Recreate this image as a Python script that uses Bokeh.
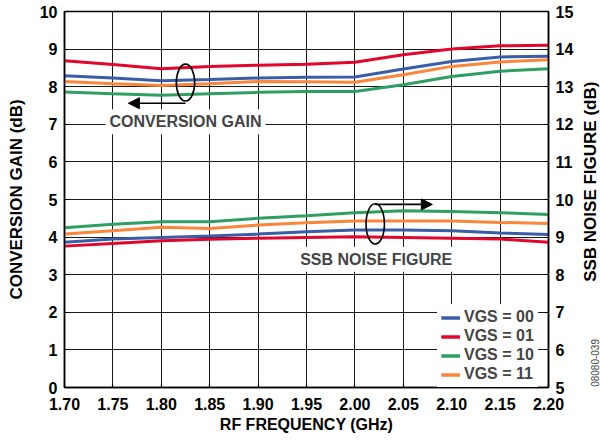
from bokeh.plotting import figure
from bokeh.layouts import row
from bokeh.models import (Range1d, LinearAxis, FixedTicker, Label, Arrow, NormalHead,
                          Legend, LegendItem, NumeralTickFormatter)
from bokeh.embed import file_html
from bokeh.resources import INLINE
import math

freq = [1.70, 1.75, 1.80, 1.85, 1.90, 1.95, 2.00, 2.05, 2.10, 2.15, 2.20]

# Conversion gain (dB), left axis
cg_00 = [8.29, 8.23, 8.16, 8.19, 8.23, 8.25, 8.26, 8.47, 8.67, 8.79, 8.81]
cg_01 = [8.69, 8.59, 8.48, 8.54, 8.57, 8.60, 8.65, 8.85, 9.00, 9.09, 9.10]
cg_10 = [7.86, 7.81, 7.77, 7.81, 7.85, 7.87, 7.87, 8.05, 8.27, 8.41, 8.48]
cg_11 = [8.14, 8.08, 8.03, 8.08, 8.14, 8.13, 8.12, 8.32, 8.54, 8.66, 8.72]

# SSB noise figure (dB), right axis
nf_00 = [8.86, 8.95, 8.99, 9.03, 9.08, 9.14, 9.19, 9.19, 9.17, 9.11, 9.07]
nf_01 = [8.76, 8.83, 8.90, 8.94, 8.97, 8.99, 9.01, 8.99, 8.97, 8.95, 8.86]
nf_10 = [9.25, 9.34, 9.41, 9.41, 9.50, 9.57, 9.65, 9.70, 9.68, 9.65, 9.60]
nf_11 = [9.08, 9.17, 9.26, 9.23, 9.32, 9.38, 9.43, 9.43, 9.43, 9.39, 9.36]

series_names = ["VGS = 00", "VGS = 01", "VGS = 10", "VGS = 11"]
colors = ["#3a5da8", "#e2062c", "#2f9e62", "#f9863a"]

x_ticks = [1.70, 1.75, 1.80, 1.85, 1.90, 1.95, 2.00, 2.05, 2.10, 2.15, 2.20]
left_ticks = list(range(0, 11))
right_ticks = list(range(5, 16))

FONT = "Liberation Sans"
FS = "16px"

fig = figure(width=580, height=444, output_backend="svg", toolbar_location=None,
             x_range=Range1d(1.70, 2.20), y_range=Range1d(0, 10),
             min_border_left=64, min_border_right=32, min_border_top=11, min_border_bottom=57)
fig.extra_y_ranges = {"nf": Range1d(5, 15)}

fig.outline_line_color = "black"
fig.outline_line_width = 1.5
fig.xgrid.grid_line_color = "black"
fig.ygrid.grid_line_color = "black"
fig.xgrid.grid_line_alpha = 0.9
fig.ygrid.grid_line_alpha = 0.9
fig.xgrid.ticker = FixedTicker(ticks=x_ticks)
fig.ygrid.ticker = FixedTicker(ticks=left_ticks)

# Axes
xa = fig.xaxis[0]
xa.ticker = FixedTicker(ticks=x_ticks)
xa.formatter = NumeralTickFormatter(format="0.00")
xa.axis_label = "RF FREQUENCY (GHz)"

ya = fig.yaxis[0]
ya.ticker = FixedTicker(ticks=left_ticks)
ya.axis_label = "CONVERSION GAIN (dB)"

ra = LinearAxis(y_range_name="nf", ticker=FixedTicker(ticks=right_ticks))
fig.add_layout(ra, "right")

for ax in [xa, ya, ra]:
    ax.major_label_text_font = FONT
    ax.major_label_text_font_style = "bold"
    ax.major_label_text_font_size = FS
    ax.major_label_text_color = "black"
    ax.axis_label_text_font = FONT
    ax.axis_label_text_font_style = "bold"
    ax.axis_label_text_font_size = FS
    ax.axis_label_text_color = "black"
    ax.major_tick_in = 4
    ax.major_tick_out = 0
    ax.minor_tick_line_color = None
    ax.axis_line_width = 1.5
    ax.major_tick_line_width = 1.2

ya.axis_label_text_font_size = "17px"
xa.major_label_standoff = 10
xa.axis_label_standoff = 3
ya.major_label_standoff = 7
ya.axis_label_standoff = 11
ra.major_label_standoff = 7

cg_list = [cg_00, cg_01, cg_10, cg_11]
nf_list = [nf_00, nf_01, nf_10, nf_11]
items = []
for name, col, cg, nf in zip(series_names, colors, cg_list, nf_list):
    r1 = fig.line(freq, cg, line_color=col, line_width=3)
    r2 = fig.line(freq, nf, line_color=col, line_width=3, y_range_name="nf")
    items.append(LegendItem(label=name, renderers=[r1, r2]))

# Annotations: ellipses + arrows
fig.ellipse(x=[1.825], y=[8.11], width=[0.019], height=[0.98],
            fill_color=None, line_color="black", line_width=1.6)
fig.add_layout(Arrow(x_start=1.825, y_start=7.56, x_end=1.766, y_end=7.56,
                     line_color="black", line_width=1.6,
                     end=NormalHead(size=11, fill_color="black", line_color="black")))
fig.ellipse(x=[2.021], y=[4.35], width=[0.019], height=[1.07],
            fill_color=None, line_color="black", line_width=1.6)
fig.add_layout(Arrow(x_start=2.021, y_start=4.87, x_end=2.08, y_end=4.87,
                     line_color="black", line_width=1.6,
                     end=NormalHead(size=11, fill_color="black", line_color="black")))

fig.add_layout(Label(x=1.825, y=7.07, text="CONVERSION GAIN", text_font=FONT,
                     text_font_style="bold", text_font_size=FS,
                     text_align="center", text_baseline="middle",
                     background_fill_color="white", padding=4))
fig.add_layout(Label(x=2.022, y=3.41, text="SSB NOISE FIGURE", text_font=FONT,
                     text_font_style="bold", text_font_size=FS,
                     text_align="center", text_baseline="middle",
                     background_fill_color="white", padding=4))

legend = Legend(items=items, location=(373, 0))
legend.label_text_font = FONT
legend.label_text_font_style = "bold"
legend.label_text_font_size = FS
legend.label_height = 17
legend.glyph_height = 17
legend.glyph_width = 19
legend.label_standoff = 4
legend.spacing = 1
legend.padding = 4
legend.margin = 0
legend.border_line_alpha = 0
legend.background_fill_color = "white"
legend.background_fill_alpha = 1.0
fig.add_layout(legend)

# Narrow strip on the right: right-axis title (reads bottom to top) and figure id
side = figure(width=20, height=444, output_backend="svg", toolbar_location=None,
              x_range=Range1d(0, 20), y_range=Range1d(0, 444), min_border=0,
              x_axis_location=None, y_axis_location=None)
side.min_border_left = 0
side.min_border_right = 0
side.min_border_top = 0
side.min_border_bottom = 0
side.outline_line_color = None
side.grid.visible = False
side.add_layout(Label(x=10, y=243, text="SSB NOISE FIGURE (dB)", text_font=FONT,
                      text_font_style="bold", text_font_size="17px", text_color="black",
                      angle=math.pi / 2, text_align="center", text_baseline="middle"))
side.add_layout(Label(x=14, y=29, text="08080-039", text_font=FONT,
                      text_font_size="10px", text_color="#444444",
                      angle=math.pi / 2, text_align="center", text_baseline="middle"))

p = row(fig, side, spacing=0)

open("out.html", "w").write(file_html(p, INLINE))
